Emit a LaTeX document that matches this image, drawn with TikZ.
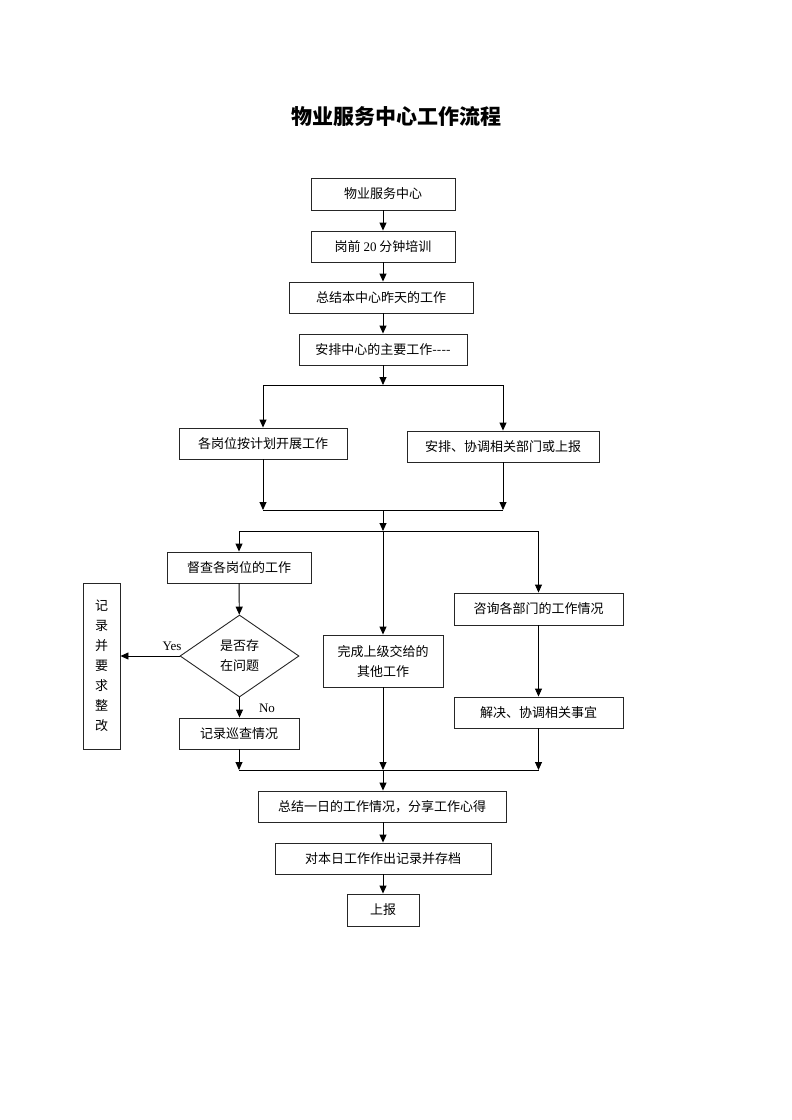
\documentclass[tikz,border=0pt]{standalone}
\usepackage{fontspec}
\setmainfont{Liberation Serif}
\newfontfamily\cjk{Noto Sans CJK SC}
\usetikzlibrary{arrows.meta,shapes.geometric}
\tikzset{
  box/.style={draw=black!85, line width=0.9pt, inner sep=0pt, align=center,
    font=\cjk\fontsize{13}{20}\selectfont},
  conn/.style={draw=black, line width=0.9pt},
  arr/.style={conn, -{Triangle[length=8pt,width=7pt]}},
  lbl/.style={inner sep=0pt, font=\fontsize{13}{15}\selectfont}
}
\begin{document}
\begin{tikzpicture}[x=1pt,y=-1pt]
\useasboundingbox (0,0) rectangle (792,1120);
\node[inner sep=0pt, font=\cjk\bfseries\fontsize{21}{24}\selectfont] (title) at (396,117) {物业服务中心工作流程};

\node[box, minimum width=144, minimum height=32] (b1) at (383,194) {物业服务中心};
\node[box, minimum width=144, minimum height=31] (b2) at (383,246.5) {岗前 {\rmfamily 20} 分钟培训};
\node[box, minimum width=184, minimum height=31] (b3) at (381,297.5) {总结本中心昨天的工作};
\node[box, minimum width=168, minimum height=31] (b4) at (383,349.5) {安排中心的主要工作----};
\node[box, minimum width=168, minimum height=31] (b5) at (263,443.5) {各岗位按计划开展工作};
\node[box, minimum width=192, minimum height=31] (b6) at (503,446.5) {安排、协调相关部门或上报};
\node[box, minimum width=144, minimum height=31] (b7) at (239,567.5) {督查各岗位的工作};
\node[box, shape=diamond, aspect=1.45, minimum width=119, minimum height=82] (dia) at (239.5,656) {是否存\\在问题};
\node[box, minimum width=37, minimum height=166] (rec) at (101.5,666) {记\\录\\并\\要\\求\\整\\改};
\node[box, minimum width=120, minimum height=31] (b8) at (239,733.5) {记录巡查情况};
\node[box, minimum width=120, minimum height=52] (b9) at (383,661) {完成上级交给的\\其他工作};
\node[box, minimum width=169, minimum height=32] (b10) at (538.5,609) {咨询各部门的工作情况};
\node[box, minimum width=169, minimum height=31] (b11) at (538.5,712.5) {解决、协调相关事宜};
\node[box, minimum width=248, minimum height=31] (b12) at (382,806.5) {总结一日的工作情况，分享工作心得};
\node[box, minimum width=216, minimum height=31] (b13) at (383,858.5) {对本日工作作出记录并存档};
\node[box, minimum width=72, minimum height=32] (b14) at (383,910) {上报};

\node[lbl] (yes) at (172,646) {Yes};
\node[lbl] (no) at (267,708) {No};

% split / merge points
\coordinate (s1) at (383,385);
\coordinate (s1l) at (263,385);
\coordinate (s1r) at (503,385);
\coordinate (m1l) at (263,510);
\coordinate (m1r) at (503,510);
\coordinate (m1) at (383,510);
\coordinate (s2) at (383,531);
\coordinate (s2l) at (239,531);
\coordinate (s2r) at (538.5,531);
\coordinate (m2l) at (239,770);
\coordinate (m2) at (383,770);
\coordinate (m2r) at (538.5,770);

\draw[arr] (b1) -- (b2);
\draw[arr] (b2) -- (b3.north -| b2);
\draw[arr] (b3.south -| b4) -- (b4);
\draw[arr] (b4) -- (s1);
\draw[conn] (s1l) -- (s1r);
\draw[arr] (s1l) -- (b5);
\draw[arr] (s1r) -- (b6);
\draw[arr] (b5) -- (m1l);
\draw[arr] (b6) -- (m1r);
\draw[conn] (m1l) -- (m1r);
\draw[arr] (m1) -- (s2);
\draw[conn] (s2l) -- (s2r);
\draw[arr] (s2l) -- (b7);
\draw[arr] (s2) -- (b9);
\draw[arr] (s2r) -- (b10);
\draw[arr] (b7) -- (dia);
\draw[arr] (dia.west) -- (rec.east |- dia.west);
\draw[arr] (dia.south) -- (b8.north -| dia.south);
\draw[arr] (b8.south -| m2l) -- (m2l);
\draw[arr] (b9) -- (m2);
\draw[arr] (b10) -- (b11);
\draw[arr] (b11) -- (m2r);
\draw[conn] (m2l) -- (m2r);
\draw[arr] (m2) -- (b12.north -| m2);
\draw[arr] (b12.south -| b13) -- (b13);
\draw[arr] (b13) -- (b14);
\end{tikzpicture}
\end{document}
